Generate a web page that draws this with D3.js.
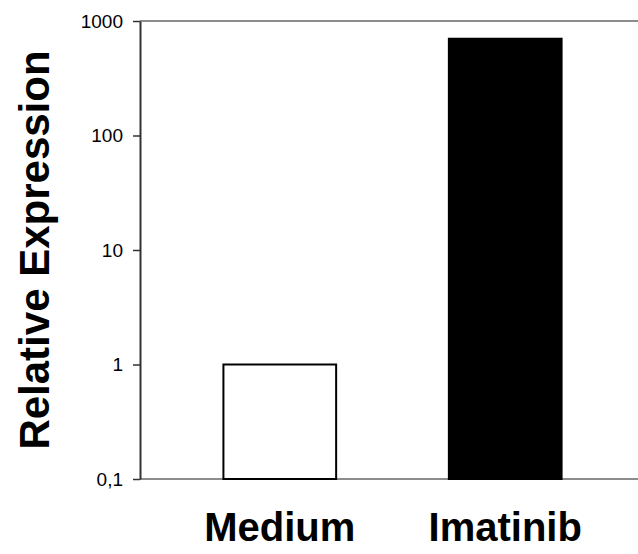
<!DOCTYPE html>
<html>
<head>
<meta charset="utf-8">
<script src="https://cdn.jsdelivr.net/npm/d3@7"></script>
<style>
    body { margin: 0; background: #fff; }
    svg { display: block; font-family: "Liberation Sans", Arial, sans-serif; }
</style>
</head>
<body>
<svg></svg>
<script>
const categories = ['Medium', 'Imatinib'];
const values = [1, 700];
const barColors = ['#ffffff', '#000000'];
const yTicks = [0.1, 1, 10, 100, 1000];

const width = 638, height = 554;
const plotLeft = 140, plotTop = 21, plotBottom = 479, plotRight = 645;

const svg = d3.select('svg')
    .attr('width', width)
    .attr('height', height);

const x = d3.scaleBand()
    .domain(categories)
    .range([plotLeft, plotRight])
    .paddingInner(0.5)
    .paddingOuter(0.37);

const y = d3.scaleLog()
    .domain([0.1, 1000])
    .range([plotBottom, plotTop]);

// frame lines at top and bottom of the plot
svg.append('g')
    .attr('class', 'frame')
    .selectAll('line')
    .data([1000, 0.1])
    .enter()
    .append('line')
    .attr('x1', plotLeft)
    .attr('x2', width)
    .attr('y1', d => y(d))
    .attr('y2', d => y(d))
    .attr('stroke', '#8c8c8c')
    .attr('stroke-width', 2);

// bars
svg.append('g')
    .attr('class', 'bars')
    .selectAll('rect')
    .data(categories)
    .enter()
    .append('rect')
    .attr('x', d => x(d))
    .attr('width', x.bandwidth())
    .attr('y', (d, i) => y(values[i]))
    .attr('height', (d, i) => y(0.1) - y(values[i]))
    .attr('fill', (d, i) => barColors[i])
    .attr('stroke', '#000')
    .attr('stroke-width', 2);

// y axis
const yAxis = svg.append('g')
    .attr('transform', `translate(${plotLeft},0)`)
    .call(d3.axisLeft(y)
        .tickValues(yTicks)
        .tickFormat(d => String(d).replace('.', ','))
        .tickSize(7)
        .tickPadding(10)
        .tickSizeOuter(0));

yAxis.select('.domain')
    .attr('stroke', '#333')
    .attr('stroke-width', 2);
yAxis.selectAll('.tick line')
    .attr('stroke', '#333')
    .attr('stroke-width', 1.5);
yAxis.selectAll('.tick text')
    .attr('font-size', '19px')
    .attr('font-family', '"Liberation Sans", Arial, sans-serif')
    .attr('fill', '#000');

// category labels
svg.append('g')
    .attr('class', 'x-labels')
    .selectAll('text')
    .data(categories)
    .enter()
    .append('text')
    .text(d => d)
    .attr('x', d => x(d) + x.bandwidth() / 2)
    .attr('y', 541)
    .attr('text-anchor', 'middle')
    .attr('font-size', '40px')
    .attr('font-weight', 'bold')
    .attr('fill', '#000');

// y title
svg.append('text')
    .text('Relative Expression')
    .attr('transform', 'translate(49,250) rotate(-90)')
    .attr('text-anchor', 'middle')
    .attr('font-size', '42px')
    .attr('font-weight', 'bold')
    .attr('fill', '#000');
</script>
</body>
</html>
